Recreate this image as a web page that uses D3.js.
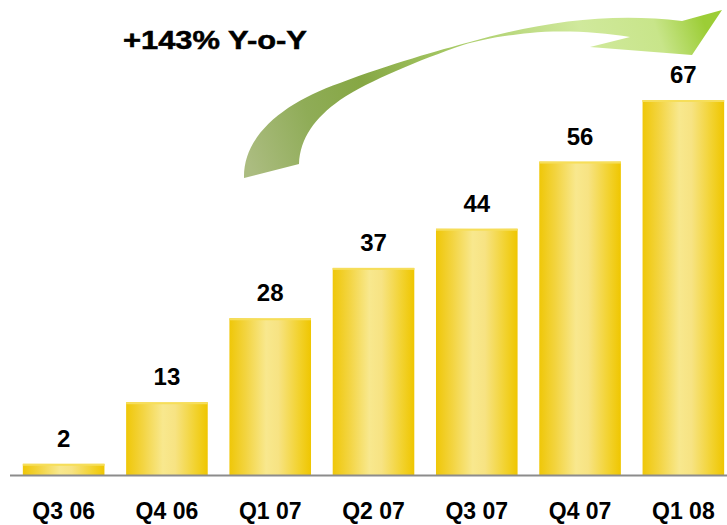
<!DOCTYPE html>
<html><head><meta charset="utf-8">
<script src="https://cdn.jsdelivr.net/npm/d3@7"></script>
<style>html,body{margin:0;padding:0;background:#fff;}svg{display:block;}</style>
</head><body>
<script>
const categories = ["Q3 06","Q4 06","Q1 07","Q2 07","Q3 07","Q4 07","Q1 08"];
const values = [2,13,28,37,44,56,67];
const title = "+143% Y-o-Y";

const W = 727, H = 525;
const svg = d3.select("body").append("svg").attr("width", W).attr("height", H);
const defs = svg.append("defs");

const bg = defs.append("linearGradient").attr("id","barGrad").attr("x1","0").attr("x2","1").attr("y1","0").attr("y2","0");
[[0,"#efc708"],[0.2,"#f3d440"],[0.45,"#f8e88e"],[0.6,"#f7e383"],[0.85,"#f2d22e"],[1,"#efc600"]]
  .forEach(s=>bg.append("stop").attr("offset",s[0]).attr("stop-color",s[1]));

const ag = defs.append("linearGradient").attr("id","arrowGrad").attr("gradientUnits","userSpaceOnUse")
  .attr("x1",255).attr("y1",180).attr("x2",705).attr("y2",25);
[[0,"#abbc80"],[0.15,"#8fac57"],[0.28,"#86a744"],[0.5,"#a9cc68"],[0.75,"#d0e99c"],[0.9,"#c8e58a"],[1,"#9ccd36"]]
  .forEach(s=>ag.append("stop").attr("offset",s[0]).attr("stop-color",s[1]));

const font = "Arial, 'Liberation Sans', sans-serif";

const x = d3.scaleBand().domain(categories).range([12, 735]).paddingInner(0.21).paddingOuter(0.105);
const y = d3.scaleLinear().domain([0, 67]).range([475, 100]);

// arrow annotation
svg.append("path")
  .attr("d","M244,178 C243,135 285,102 340,83 C390,64 440,50 470,42 C540,22 610,12 682,21 L722,10 L692,55 L590,47 L630,37 C600,32 560,30 530,33 C500,36 480,40 463,45 C420,60 370,80 340,100 C315,118 300,138 299,164 Z")
  .attr("fill","url(#arrowGrad)");

const t = svg.append("text").attr("x",0).attr("y",0).attr("font-family",font).attr("font-weight","bold")
  .attr("font-size",26).attr("fill","#000").attr("stroke","#000").attr("stroke-width",0.5)
  .text(title);
const tw = t.node().getComputedTextLength();
t.attr("transform",`translate(123,49) scale(${184/tw},1)`);

// bars
const g = svg.append("g");
g.selectAll("rect.bar").data(values).join("rect").attr("class","bar")
  .attr("x",(d,i)=>x(categories[i])).attr("width",x.bandwidth())
  .attr("y",d=>y(d)).attr("height",d=>y(0)-y(d))
  .attr("fill","url(#barGrad)");
g.selectAll("rect.top").data(values).join("rect").attr("class","top")
  .attr("x",(d,i)=>x(categories[i])).attr("width",x.bandwidth())
  .attr("y",d=>y(d)).attr("height",2)
  .attr("fill","#f6de5a");

// baseline
svg.append("line").attr("x1",10).attr("x2",W).attr("y1",y(0)+0.5).attr("y2",y(0)+0.5)
  .attr("stroke","#8c8c8c").attr("stroke-width",2);

// value labels
svg.selectAll("text.val").data(values).join("text").attr("class","val")
  .attr("x",(d,i)=>x(categories[i])+x.bandwidth()/2).attr("y",d=>y(d)-17)
  .attr("text-anchor","middle").attr("font-family",font).attr("font-weight","bold")
  .attr("font-size",24).attr("fill","#000").text(d=>d);

// category labels
const axis = d3.axisBottom(x).tickSize(0).tickPadding(0);
const ax = svg.append("g").attr("transform",`translate(0,${y(0)})`).call(axis);
ax.select(".domain").remove();
ax.selectAll("text").attr("dy",0).attr("y",44).attr("font-family",font).attr("font-weight","bold")
  .attr("font-size",23).attr("fill","#000");
</script>
</body></html>
